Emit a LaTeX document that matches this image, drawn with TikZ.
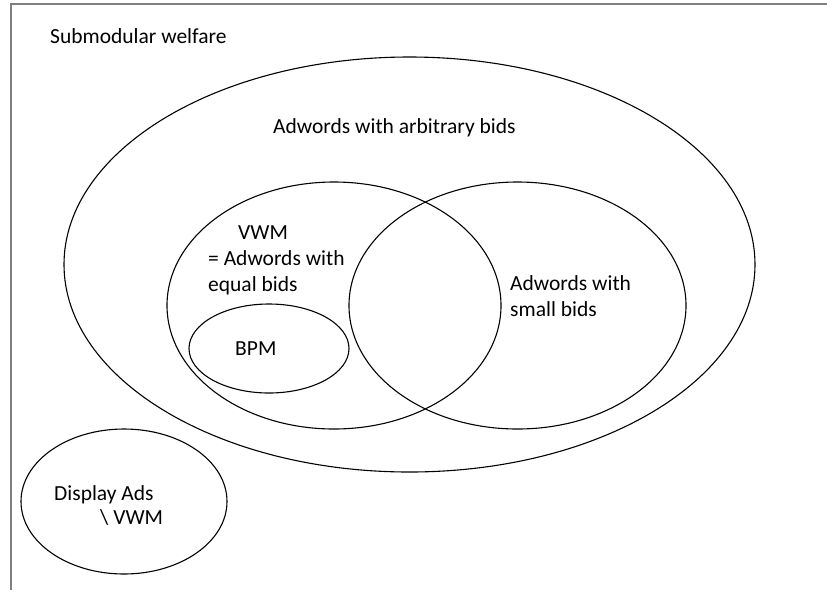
\documentclass[tikz,border=0pt]{standalone}
\usepackage{fontspec}
\setmainfont{Carlito}
\begin{document}
\begin{tikzpicture}[
        x=1pt,
        y=-1pt,
        setline/.style={line width=1.1pt},
        lbl/.style={anchor=base west, inner sep=0pt, align=left,
            font=\fontsize{21.5}{26}\selectfont}
    ]
    \useasboundingbox (0,0) rectangle (827,590);
    \draw[black!50, line width=2pt] (10.5,590) -- (10.5,4) -- (827,4);

    \coordinate (arb) at (409.5,264.5);
    \coordinate (vwm) at (334,305.5);
    \coordinate (small) at (517.5,305.5);
    \coordinate (bpm) at (269,348.5);
    \coordinate (disp) at (124,501.5);

    \draw[setline] (arb) ellipse [x radius=345.5, y radius=207.5];
    \draw[setline] (vwm) ellipse [x radius=167, y radius=123.5];
    \draw[setline] (small) ellipse [x radius=168.5, y radius=123.5];
    \draw[setline] (bpm) ellipse [x radius=80, y radius=44.5];
    \draw[setline] (disp) ellipse [x radius=103, y radius=72.5];

    % multi-line labels sit on the baseline of their last line
    \node[lbl] (welfaretext) at (50,43) {Submodular welfare};
    \node[lbl] (arbtext) at (273,133) {Adwords with arbitrary bids};
    \node[lbl] (vwmtext) at (208,291) {\hspace*{30pt}VWM\\= Adwords with\\equal bids};
    \node[lbl] (smalltext) at (510,316) {Adwords with\\small bids};
    \node[lbl] (bpmtext) at (235,355) {BPM};
    \node[lbl, font=\fontsize{21.5}{24}\selectfont] (disptext) at (54,524)
        {Display Ads\\\hspace*{46pt}\textbackslash{} VWM};
\end{tikzpicture}
\end{document}
